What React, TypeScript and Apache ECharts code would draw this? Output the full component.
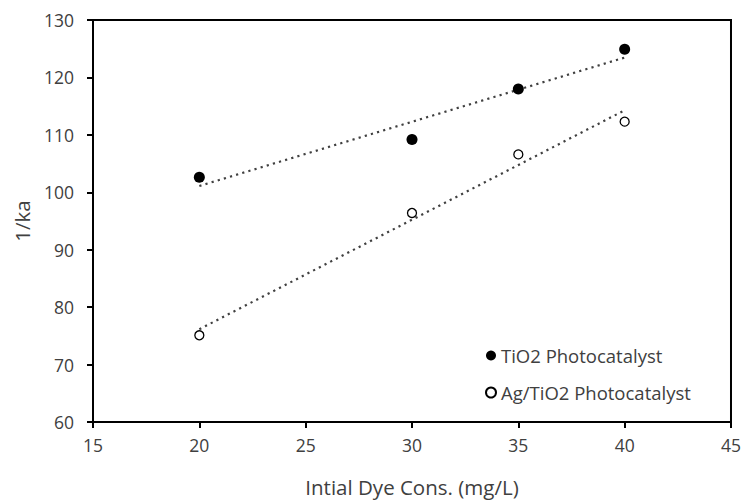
import React, { useEffect, useRef } from "react";
import * as echarts from "echarts";

const xValues = [20, 30, 35, 40];
const tio2Values = [102.6, 109.2, 118.0, 124.9];
const agTio2Values = [75.1, 96.4, 106.6, 112.3];
const seriesNames = ["TiO2 Photocatalyst", "Ag/TiO2 Photocatalyst"];
const xAxisTitle = "Intial Dye Cons. (mg/L)";
const yAxisTitle = "1/ka";

function linearFit(xs: number[], ys: number[]): number[][] {
  const n = xs.length;
  const mx = xs.reduce((a, b) => a + b, 0) / n;
  const my = ys.reduce((a, b) => a + b, 0) / n;
  let sxy = 0;
  let sxx = 0;
  for (let i = 0; i < n; i++) {
    sxy += (xs[i] - mx) * (ys[i] - my);
    sxx += (xs[i] - mx) * (xs[i] - mx);
  }
  const slope = sxy / sxx;
  const intercept = my - slope * mx;
  const x0 = Math.min(...xs);
  const x1 = Math.max(...xs);
  return [
    [x0, intercept + slope * x0],
    [x1, intercept + slope * x1],
  ];
}

const FONT = "Open Sans";
const TEXT = "#404040";

export default function App() {
  const ref = useRef<HTMLDivElement>(null);
  useEffect(() => {
    if (!ref.current) return;
    const chart = echarts.init(ref.current, null, { renderer: "svg" });
    const trendStyle = {
      color: "#404040",
      width: 2.2,
      type: [2.2, 4.2] as any,
    };
    chart.setOption({
      animation: false,
      backgroundColor: "#ffffff",
      textStyle: { fontFamily: FONT },
      grid: {
        left: 93,
        right: 11,
        top: 20,
        bottom: 78,
        show: true,
        borderColor: "#000000",
        borderWidth: 2,
      },
      legend: {
        orient: "vertical",
        left: 480,
        top: 341,
        itemWidth: 10,
        itemHeight: 10,
        itemGap: 18,
        icon: "circle",
        data: seriesNames,
        textStyle: { fontFamily: FONT, fontSize: 18.5, color: TEXT, lineHeight: 18 },
      },
      xAxis: {
        type: "value",
        min: 15,
        max: 45,
        interval: 5,
        name: xAxisTitle,
        nameLocation: "middle",
        nameGap: 54,
        nameTextStyle: { fontFamily: FONT, fontSize: 20.5, color: TEXT },
        axisLine: { show: true, lineStyle: { color: "#000000", width: 2 } },
        axisTick: { show: true, inside: false, length: 6, lineStyle: { color: "#000000", width: 2 } },
        axisLabel: { fontFamily: FONT, fontSize: 17.5, color: TEXT, margin: 14 },
        splitLine: { show: false },
      },
      yAxis: {
        type: "value",
        min: 60,
        max: 130,
        interval: 10,
        name: yAxisTitle,
        nameLocation: "middle",
        nameGap: 61,
        nameRotate: 90,
        nameTextStyle: { fontFamily: FONT, fontSize: 20.5, color: TEXT },
        axisLine: { show: true, lineStyle: { color: "#000000", width: 2 } },
        axisTick: { show: true, inside: false, length: 6, lineStyle: { color: "#000000", width: 2 } },
        axisLabel: { fontFamily: FONT, fontSize: 17.5, color: TEXT, margin: 19 },
        splitLine: { show: false },
      },
      series: [
        {
          name: "tio2-trend",
          type: "line",
          data: linearFit(xValues, tio2Values),
          symbol: "none",
          lineStyle: trendStyle,
          silent: true,
          z: 1,
        },
        {
          name: "ag-trend",
          type: "line",
          data: linearFit(xValues, agTio2Values),
          symbol: "none",
          lineStyle: trendStyle,
          silent: true,
          z: 1,
        },
        {
          name: seriesNames[0],
          type: "scatter",
          data: xValues.map((x, i) => [x, tio2Values[i]]),
          symbol: "circle",
          symbolSize: 11,
          itemStyle: { color: "#000000", borderColor: "#000000", borderWidth: 0, opacity: 1 },
          z: 3,
        },
        {
          name: seriesNames[1],
          type: "scatter",
          data: xValues.map((x, i) => [x, agTio2Values[i]]),
          symbol: "circle",
          symbolSize: 9,
          itemStyle: { color: "#ffffff", borderColor: "#000000", borderWidth: 1.3, opacity: 1 },
          z: 3,
        },
      ],
    });
    return () => chart.dispose();
  }, []);
  return <div ref={ref} style={{ width: 744, height: 502, position: "absolute", left: 0, top: 0 }} />;
}
